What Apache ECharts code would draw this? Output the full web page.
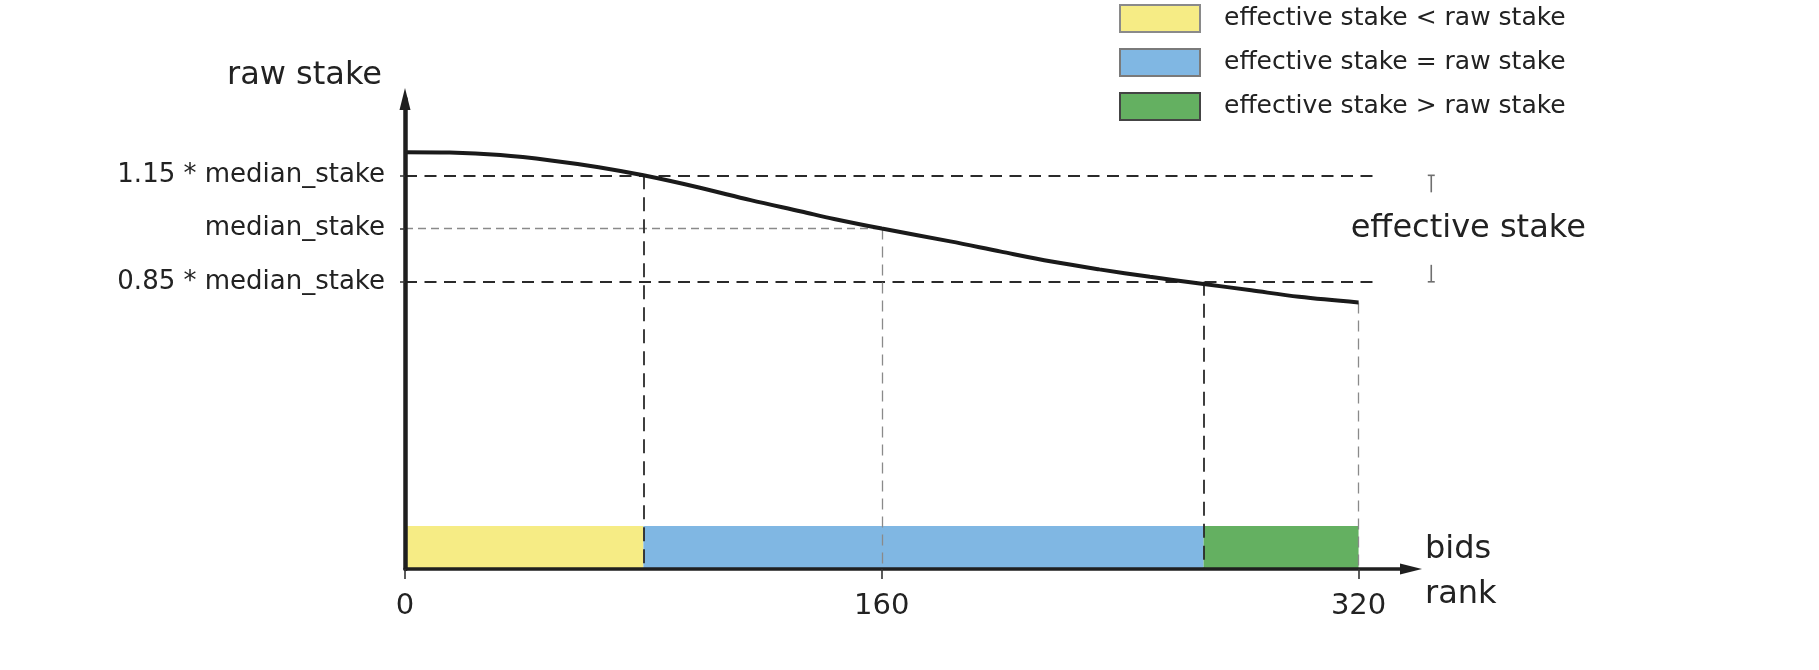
<!DOCTYPE html>
<html>
<head>
<meta charset="utf-8">
<script src="https://cdn.jsdelivr.net/npm/echarts@6/dist/echarts.min.js"></script>
<style>
html,body{margin:0;padding:0;background:#fff;}
#chart{width:1819px;height:670px;}
</style>
</head>
<body>
<div id="chart"></div>
<script>
// ---- data ----
const ranks = [0, 15, 32, 49, 65, 80, 99, 116, 133, 144, 160, 183, 200, 217, 233, 250, 268, 284, 300, 320];
const rawStake = [1.215, 1.214, 1.207, 1.192, 1.173, 1.15, 1.115, 1.08, 1.048, 1.027, 1.0, 0.964, 0.935, 0.907, 0.885, 0.864, 0.844, 0.826, 0.808, 0.792];
const xTickValues = [0, 160, 320];
const xTickLabels = ['0', '160', '320'];
const yTickValues = [0.85, 1, 1.15];
const yTickLabels = ['0.85 * median_stake', 'median_stake', '1.15 * median_stake'];
const segmentNames = ['effective stake < raw stake', 'effective stake = raw stake', 'effective stake > raw stake'];
const segmentBounds = [0, 80, 268, 320];
const segmentColors = ['#f6ec85', '#80b7e3', '#64b061'];
const legendBorders = ['#8a8a8a', '#7a7a7a', '#444444'];
const highRef = 1.15, medianRef = 1, lowRef = 0.85;
const rankHigh = 80, rankMedian = 160, rankLow = 268;

// ---- layout ----
const X_MAX = 337.6, Y_MIN = 0.041, Y_MAX = 1.365;
const REF_END = 325, BRACKET_RANK = 344.4;
const FONT = 'DejaVu Sans';
const TXT = '#222';

const chart = echarts.init(document.getElementById('chart'));
const lastRank = ranks[ranks.length - 1];
const lastStake = rawStake[rawStake.length - 1];

const blackH = {color: '#2a2a2a', width: 1.8, type: [12, 7.5]};
const grayH = {color: '#8a8a8a', width: 1.3, type: [8, 5]};
const blackV = {color: '#2a2a2a', width: 1.8, type: [14, 8]};
const grayV = {color: '#8a8a8a', width: 1.3, type: [11, 7]};

function labelFor(values, labels) {
  return function (v) {
    for (let i = 0; i < values.length; i++) if (Math.abs(values[i] - v) < 1e-6) return labels[i];
    return '';
  };
}

const barSeries = segmentNames.map(function (name, i) {
  return {
    name: name,
    type: 'bar',
    xAxisIndex: 1,
    yAxisIndex: 1,
    stack: 'seg',
    barWidth: '100%',
    z: 2,
    silent: true,
    itemStyle: {color: segmentColors[i]},
    data: [segmentBounds[i + 1] - segmentBounds[i]]
  };
});

const option = {
  animation: false,
  backgroundColor: '#fff',
  textStyle: {fontFamily: FONT},
  legend: {
    orient: 'vertical',
    left: 1119,
    top: 4,
    padding: 0,
    itemWidth: 80,
    itemHeight: 27,
    itemGap: 15,
    icon: 'rect',
    selectedMode: false,
    textStyle: {fontSize: 25, color: TXT, fontFamily: FONT, padding: [0, 0, 0, 19], lineHeight: 27},
    data: segmentNames.map(function (n, i) {
      return {name: n, itemStyle: {borderColor: legendBorders[i], borderWidth: 2}};
    })
  },
  grid: [
    {left: 405, right: 408, top: 99, bottom: 101, containLabel: false, outerBoundsMode: 'none'},
    {left: 405, right: 408, top: 526, bottom: 101, containLabel: false, outerBoundsMode: 'none'}
  ],
  xAxis: [
    {
      type: 'value', gridIndex: 0, min: 0, max: X_MAX, z: 10,
      name: '{gap| }\n{t|bids}\n{t|rank}', nameLocation: 'end', nameGap: 14,
      nameTextStyle: {
        fontSize: 32, color: TXT, fontFamily: FONT, align: 'left', verticalAlign: 'middle',
        rich: {
          gap: {fontSize: 6, lineHeight: 7, fontFamily: FONT},
          t: {fontSize: 32, lineHeight: 45, color: TXT, fontFamily: FONT}
        }
      },
      axisLine: {show: true, symbol: ['none', 'triangle'], symbolSize: [11, 22], lineStyle: {color: '#1f1f1f', width: 3.5}},
      axisTick: {show: true, length: 10, customValues: xTickValues, lineStyle: {color: '#333', width: 1.6}},
      axisLabel: {show: true, customValues: xTickValues, formatter: labelFor(xTickValues, xTickLabels), fontSize: 29, color: TXT, fontFamily: FONT, margin: 23},
      splitLine: {show: false}
    },
    {type: 'value', gridIndex: 1, min: 0, max: X_MAX, show: false}
  ],
  yAxis: [
    {
      type: 'value', gridIndex: 0, min: Y_MIN, max: Y_MAX, z: 10,
      name: 'raw stake', nameLocation: 'end', nameGap: 23,
      nameTextStyle: {fontSize: 32, color: TXT, fontFamily: FONT, align: 'right', verticalAlign: 'middle', padding: [0, 23, 0, 0]},
      axisLine: {show: true, symbol: ['none', 'triangle'], symbolSize: [11, 22], lineStyle: {color: '#1f1f1f', width: 4.5}},
      axisTick: {show: true, length: 5, customValues: yTickValues, lineStyle: {color: '#333', width: 1.5}},
      axisLabel: {show: true, customValues: yTickValues, formatter: labelFor(yTickValues, yTickLabels), fontSize: 26, color: TXT, fontFamily: FONT, margin: 20},
      splitLine: {show: false}
    },
    {type: 'category', gridIndex: 1, data: ['segments'], show: false}
  ],
  series: barSeries.concat([
    {
      name: 'raw stake',
      type: 'line',
      xAxisIndex: 0, yAxisIndex: 0,
      z: 6,
      smooth: 0.35,
      showSymbol: false,
      silent: true,
      lineStyle: {color: '#1a1a1a', width: 4},
      data: ranks.map(function (r, i) { return [r, rawStake[i]]; }),
      markLine: {
        silent: true,
        symbol: ['none', 'none'],
        label: {show: false},
        emphasis: {disabled: true},
        data: [
          [{coord: [0, highRef], lineStyle: blackH}, {coord: [REF_END, highRef]}],
          [{coord: [0, lowRef], lineStyle: blackH}, {coord: [REF_END, lowRef]}],
          [{coord: [0, medianRef], lineStyle: grayH}, {coord: [rankMedian, medianRef]}],
          [{coord: [rankHigh, highRef], lineStyle: blackV}, {coord: [rankHigh, Y_MIN]}],
          [{coord: [rankMedian, medianRef], lineStyle: grayV}, {coord: [rankMedian, Y_MIN]}],
          [{coord: [rankLow, lowRef], lineStyle: blackV}, {coord: [rankLow, Y_MIN]}],
          [{coord: [lastRank, lastStake], lineStyle: grayV}, {coord: [lastRank, Y_MIN]}]
        ]
      }
    },
    {
      name: 'bracket',
      type: 'custom',
      xAxisIndex: 0, yAxisIndex: 0,
      clip: false,
      silent: true,
      z: 7,
      data: [[BRACKET_RANK, highRef, lowRef, medianRef]],
      renderItem: function (params, api) {
        const t = api.coord([api.value(0), api.value(1)]);
        const b = api.coord([api.value(0), api.value(2)]);
        const m = api.coord([api.value(0), api.value(3)]);
        const st = {stroke: '#6f6f6f', lineWidth: 1.6};
        return {
          type: 'group',
          children: [
            {type: 'line', shape: {x1: t[0], y1: t[1], x2: t[0], y2: t[1] + 17}, style: st},
            {type: 'line', shape: {x1: t[0] - 3.5, y1: t[1], x2: t[0] + 3.5, y2: t[1]}, style: st},
            {type: 'line', shape: {x1: b[0], y1: b[1], x2: b[0], y2: b[1] - 17}, style: st},
            {type: 'line', shape: {x1: b[0] - 3.5, y1: b[1], x2: b[0] + 3.5, y2: b[1]}, style: st},
            {type: 'text', x: t[0] + 37, y: m[1], style: {text: 'effective stake', fontSize: 32, fontFamily: FONT, fill: TXT, align: 'center', verticalAlign: 'middle'}}
          ]
        };
      }
    }
  ])
};
chart.setOption(option);
</script>
</body>
</html>
